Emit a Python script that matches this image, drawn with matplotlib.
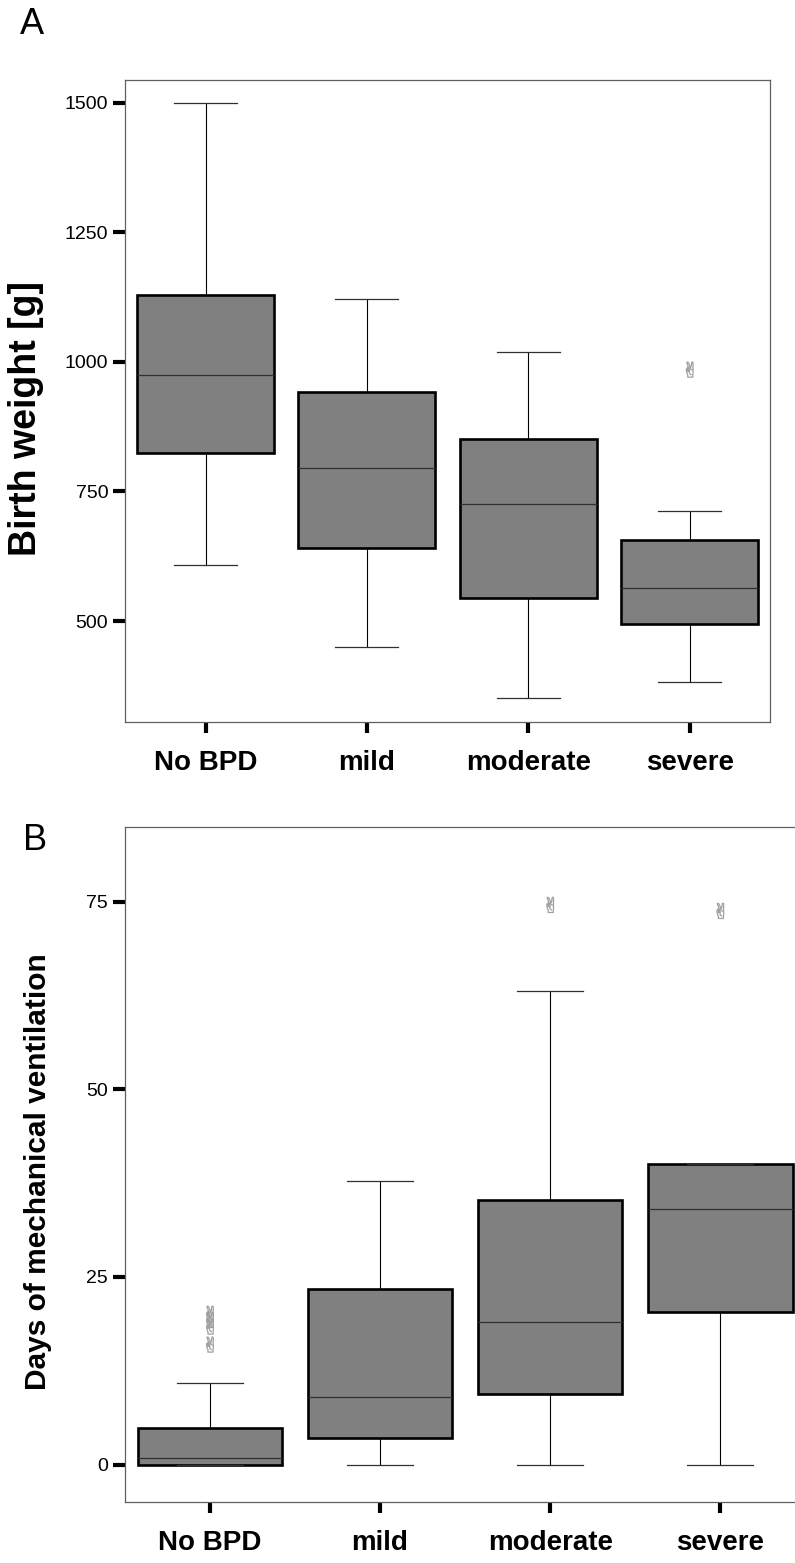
import matplotlib
matplotlib.use('Agg')
import matplotlib.pyplot as plt

plt.rcParams['font.family'] = ['Liberation Sans', 'DejaVu Sans']

# ── data ──────────────────────────────────────────────────
groups = ['No BPD', 'mild', 'moderate', 'severe']

# Panel A: birth weight [g]
bw_whislo = [608, 450, 351, 382]
bw_q1 = [824, 640, 544, 494]
bw_med = [975, 795, 726, 564]
bw_q3 = [1129, 941, 851, 656]
bw_whishi = [1500, 1122, 1018, 712]
bw_fliers = [[], [], [], [985]]

# Panel B: days of mechanical ventilation
mv_whislo = [0, 0, 0, 0]
mv_q1 = [0, 3.5, 9.4, 20.3]
mv_med = [0.9, 9.0, 19.0, 34.0]
mv_q3 = [4.9, 23.4, 35.2, 40.1]
mv_whishi = [10.9, 37.8, 63.1, 40.1]
mv_fliers = [[20.1, 19.3, 18.4, 16.0], [], [74.6], [73.8]]


def make_stats(lo, q1, med, q3, hi, fl):
    return [dict(whislo=a, q1=b, med=c, q3=d, whishi=e, fliers=f, label=g)
            for a, b, c, d, e, f, g in zip(lo, q1, med, q3, hi, fl, groups)]


def draw_panel(ax, stats, ylim, yticks, ylabel, ylabel_size, ylabel_xy):
    pos = list(range(len(groups)))
    ax.bxp(stats, positions=pos, widths=0.85, patch_artist=True,
           showfliers=False, capwidths=0.39,
           boxprops=dict(facecolor='#808080', edgecolor='black', linewidth=1.9),
           medianprops=dict(color='#303030', linewidth=0.9),
           whiskerprops=dict(color='black', linewidth=0.8),
           capprops=dict(color='#303030', linewidth=0.9))
    # outliers: small hand glyphs like the SPSS original
    for x, s in zip(pos, stats):
        if s['fliers']:
            ax.scatter([x] * len(s['fliers']), s['fliers'], marker='$\u270c$',
                       s=130, facecolors='none', edgecolors='#a0a0a0',
                       linewidths=0.45, zorder=3)
    ax.set_xlim(-0.5, 3.5)
    ax.set_ylim(*ylim)
    ax.set_yticks(yticks)
    ax.set_xticks(pos)
    ax.set_xticklabels(groups, fontsize=20, fontweight='bold')
    ax.tick_params(axis='y', length=9, width=3, labelsize=14, pad=3)
    ax.tick_params(axis='x', length=8, width=3, pad=12)
    for sp in ax.spines.values():
        sp.set_color('#606060')
        sp.set_linewidth(0.9)
    ax.set_ylabel(ylabel, fontsize=ylabel_size, fontweight='bold', va='center')
    ax.yaxis.set_label_coords(*ylabel_xy)


fig = plt.figure(figsize=(7.95, 15.63), dpi=100)
ax1 = fig.add_axes([0.157, 0.538, 0.812, 0.411])
ax2 = fig.add_axes([0.157, 0.039, 0.856, 0.432])

draw_panel(ax1, make_stats(bw_whislo, bw_q1, bw_med, bw_q3, bw_whishi, bw_fliers),
           (305, 1544), [500, 750, 1000, 1250, 1500], 'Birth weight [g]', 27,
           (-0.153, 0.473))
draw_panel(ax2, make_stats(mv_whislo, mv_q1, mv_med, mv_q3, mv_whishi, mv_fliers),
           (-5, 85), [0, 25, 50, 75], 'Days of mechanical ventilation', 21.5,
           (-0.127, 0.489))

fig.text(32 / 795, 1 - 24 / 1563, 'A', fontsize=26, ha='center', va='center')
fig.text(35 / 795, 1 - 840 / 1563, 'B', fontsize=26, ha='center', va='center')

fig.savefig('out.png', dpi=100)
